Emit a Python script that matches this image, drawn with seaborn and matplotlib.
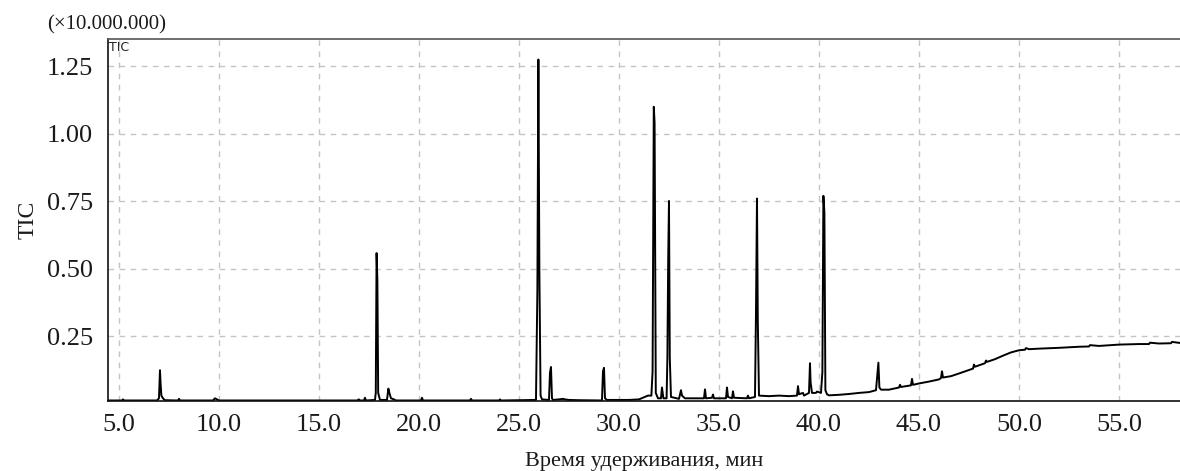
import numpy as np
import pandas as pd
import matplotlib
matplotlib.use("Agg")
import matplotlib.pyplot as plt
from matplotlib.ticker import MultipleLocator, FormatStrFormatter
import seaborn as sns

# retention time (min) and TIC (x 10.000.000), vertices
rt_min = [4.45, 5.15, 5.2, 5.25, 6.9, 7.0, 7.05, 7.08, 7.12, 7.2, 7.3,
          7.95, 8.0, 8.05, 9.7, 9.8, 9.9, 10.0,
          16.9, 17.0, 17.05, 17.25, 17.3, 17.35,
          17.8, 17.84, 17.88, 17.92, 17.96, 18.05,
          18.4, 18.47, 18.52, 18.6, 18.75, 18.85,
          20.1, 20.15, 20.2, 22.55, 22.6, 22.65, 24.0, 24.05, 24.1,
          25.85, 25.92, 25.97, 26.02, 26.08, 26.15,
          26.5, 26.55, 26.6, 26.65, 26.7,
          27.0, 27.2, 27.3, 27.5, 28.0,
          29.15, 29.2, 29.25, 29.3, 29.4,
          30.5, 31.0, 31.45, 31.62, 31.68, 31.74, 31.78, 31.84, 31.95,
          32.1, 32.15, 32.22, 32.38, 32.42, 32.46, 32.5, 32.54, 32.6,
          33.0, 33.1, 33.15, 33.3, 34.25, 34.3, 34.35, 34.65, 34.7, 34.75,
          35.35, 35.4, 35.45, 35.65, 35.7, 35.75,
          36.4, 36.45, 36.5, 36.8, 36.85, 36.9, 36.94, 37.0,
          37.5, 38.0, 38.5, 38.9, 38.95, 39.0, 39.2, 39.25,
          39.5, 39.55, 39.58, 39.65, 39.85, 39.9, 40.1,
          40.17, 40.22, 40.27, 40.32, 40.4,
          40.5, 41.0, 41.5, 42.0, 42.5, 42.85, 42.92, 42.97, 43.02, 43.1,
          43.5, 44.0, 44.05, 44.1, 44.6, 44.65, 44.7, 45.0, 45.5,
          46.0, 46.1, 46.15, 46.2, 46.6, 47.0, 47.5, 47.7, 47.75, 47.8,
          48.3, 48.35, 48.4, 48.8, 49.2, 49.6, 50.0, 50.3, 50.35, 50.5,
          51.0, 52.0, 53.0, 53.5, 53.55, 54.0, 55.0, 56.0, 56.5, 56.55,
          57.0, 57.6, 57.65, 58.05]
tic = [0.012, 0.012, 0.016, 0.012, 0.012, 0.02, 0.124, 0.076, 0.03, 0.02, 0.013,
       0.012, 0.018, 0.012, 0.012, 0.02, 0.016, 0.012,
       0.012, 0.016, 0.012, 0.012, 0.022, 0.012,
       0.014, 0.04, 0.558, 0.457, 0.04, 0.014,
       0.014, 0.056, 0.04, 0.02, 0.016, 0.012,
       0.012, 0.022, 0.012, 0.012, 0.018, 0.012, 0.012, 0.016, 0.012,
       0.014, 0.42, 1.275, 0.483, 0.03, 0.016,
       0.014, 0.115, 0.136, 0.02, 0.014,
       0.016, 0.018, 0.016, 0.014, 0.013,
       0.012, 0.12, 0.133, 0.02, 0.014,
       0.014, 0.016, 0.03, 0.03, 0.12, 1.10, 1.04, 0.04, 0.02,
       0.02, 0.06, 0.02, 0.02, 0.17, 0.53, 0.751, 0.17, 0.025,
       0.018, 0.05, 0.03, 0.02, 0.02, 0.053, 0.02, 0.022, 0.034, 0.02,
       0.02, 0.06, 0.025, 0.02, 0.046, 0.022,
       0.02, 0.03, 0.02, 0.025, 0.34, 0.76, 0.31, 0.03,
       0.028, 0.03, 0.028, 0.03, 0.065, 0.035, 0.04, 0.03,
       0.04, 0.15, 0.08, 0.04, 0.04, 0.045, 0.04,
       0.118, 0.77, 0.71, 0.05, 0.035,
       0.031, 0.033, 0.036, 0.04, 0.043, 0.05, 0.11, 0.152, 0.06, 0.052,
       0.052, 0.06, 0.07, 0.062, 0.068, 0.092, 0.07, 0.075, 0.082,
       0.09, 0.095, 0.12, 0.097, 0.102, 0.112, 0.125, 0.13, 0.145, 0.137,
       0.15, 0.16, 0.155, 0.165, 0.178, 0.19, 0.198, 0.2, 0.206, 0.202,
       0.204, 0.207, 0.211, 0.212, 0.217, 0.214, 0.219, 0.221, 0.221, 0.226,
       0.223, 0.224, 0.229, 0.225]

df = pd.DataFrame({"rt": rt_min, "tic": tic})

sns.set_style("whitegrid")
plt.rcParams["font.family"] = ["Liberation Serif", "DejaVu Serif"]

fig = plt.figure(figsize=(11.8, 4.71), dpi=100)
ax = fig.add_axes([0.0915, 0.1486, 0.9085, 0.768])

sns.lineplot(data=df, x="rt", y="tic", ax=ax, color="black", linewidth=1.4,
             estimator=None, sort=False)

ax.set_xlim(4.45, 58.05)
ax.set_ylim(0.01, 1.35)
ax.xaxis.set_minor_locator(MultipleLocator(1))
ax.yaxis.set_minor_locator(MultipleLocator(0.05))
ax.set_xticks([5, 10, 15, 20, 25, 30, 35, 40, 45, 50, 55])
ax.set_yticks([0.25, 0.5, 0.75, 1.0, 1.25])
ax.xaxis.set_major_formatter(FormatStrFormatter("%.1f"))
ax.yaxis.set_major_formatter(FormatStrFormatter("%.2f"))

ax.grid(True, which="major", color="#c4c4c4", linestyle=(0, (4, 4)), linewidth=1)
ax.tick_params(axis="both", which="both", direction="out", colors="#222222",
               labelsize=19, labelcolor="#1a1a1a")
ax.tick_params(axis="x", which="both", length=4, width=1, pad=5)
ax.tick_params(axis="y", which="major", length=8, width=1, pad=3)
ax.tick_params(axis="y", which="minor", length=5, width=1)

for side in ["left", "bottom"]:
    ax.spines[side].set_color("#111111")
    ax.spines[side].set_linewidth(1.2)
ax.spines["top"].set_color("#555555")
ax.spines["top"].set_linewidth(1.2)
ax.spines["right"].set_visible(False)

ax.set_xlabel("Время удерживания, мин", fontsize=16, labelpad=12, color="#1a1a1a")
ax.set_ylabel("TIC", fontsize=17, labelpad=6, color="#1a1a1a")
ax.text(-0.057, 1.012, "(×10.000.000)", transform=ax.transAxes, fontsize=15,
        ha="left", va="bottom", color="#1a1a1a")
ax.text(0.001, 0.995, "TIC", transform=ax.transAxes, fontsize=9,
        family="DejaVu Sans", ha="left", va="top", color="#222222")

fig.savefig("out.png", dpi=100)
